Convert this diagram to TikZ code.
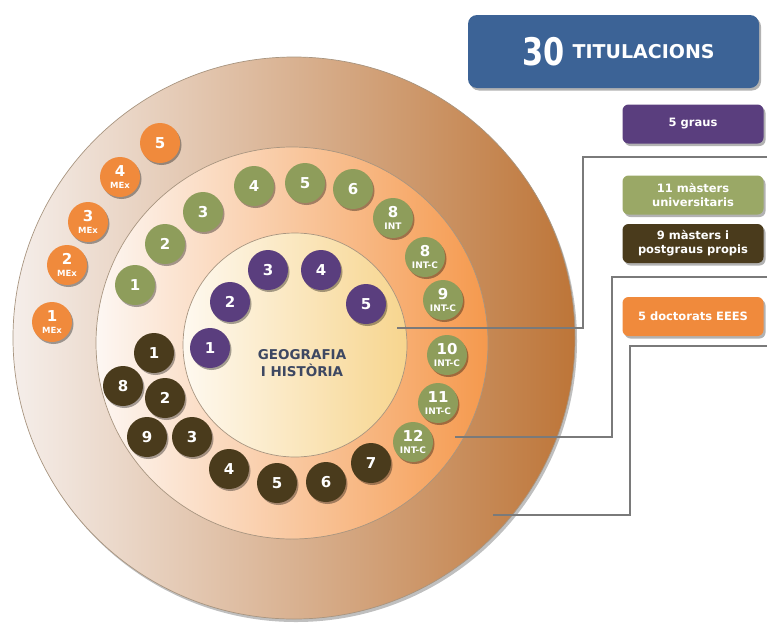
\documentclass[tikz,border=0pt]{standalone}
\usepackage{fontspec}
\setmainfont{DejaVu Sans}
\usetikzlibrary{shadows}
\definecolor{outL}{HTML}{F5EEEA}
\definecolor{outR}{HTML}{BD7538}
\definecolor{midL}{HTML}{FDF7F3}
\definecolor{midR}{HTML}{F5994D}
\definecolor{inL}{HTML}{FEF9F0}
\definecolor{inR}{HTML}{F7D58E}
\definecolor{cpur}{HTML}{5A3E7E}
\definecolor{cgrn}{HTML}{8E9D5B}
\definecolor{cdrk}{HTML}{4A3B1C}
\definecolor{corg}{HTML}{F08A3C}
\definecolor{cblue}{HTML}{3C6396}
\definecolor{ctext}{HTML}{3E4862}
\definecolor{cline}{HTML}{7A7A7A}
\definecolor{bgrn}{HTML}{9AA866}
\definecolor{rimc}{HTML}{A89580}
\newcommand{\twol}[2]{{\fontsize{15}{12}\selectfont #1}\\{\fontsize{9}{10}\selectfont #2}}
\newcommand{\twom}[2]{{\fontsize{15}{12}\selectfont #1}\\{\fontsize{8.5}{10}\selectfont #2}}
\begin{document}
\begin{tikzpicture}[x=1pt,y=-1pt,
  disc/.style={circle, inner sep=0pt, draw=rimc, line width=0.7pt},
  bub/.style={circle, minimum size=40pt, inner sep=0pt, text=white,
    font=\fontsize{15}{12}\selectfont\bfseries, align=center,
    drop shadow={shadow xshift=1.5pt, shadow yshift=-2pt, opacity=0.35, fill=black}},
  pur/.style={bub, fill=cpur},
  grn/.style={bub, fill=cgrn},
  drk/.style={bub, fill=cdrk},
  org/.style={bub, fill=corg},
  tagbox/.style={rounded corners=6pt, minimum width=141pt, minimum height=39pt,
    inner sep=0pt, text=white, align=center, font=\fontsize{11.5}{14}\selectfont\bfseries,
    drop shadow={shadow xshift=2pt, shadow yshift=-2.5pt, opacity=0.3, fill=black}},
  conn/.style={draw=cline, line width=1.2pt}]
\useasboundingbox (0,0) rectangle (767,627);
% discs
\node[disc, minimum size=562pt, left color=outL, right color=outR,
  drop shadow={shadow xshift=2pt, shadow yshift=-3pt, opacity=0.25, fill=black}] (outer) at (294,338) {};
\node[disc, minimum size=392pt, left color=midL, right color=midR] (middle) at (292,343) {};
\node[disc, minimum size=224pt, left color=inL, right color=inR] (inner) at (295,345) {};
\node[text=ctext, font=\fontsize{13.5}{17}\selectfont\bfseries, align=center] (title0) at (302,363) {GEOGRAFIA\\I HISTÒRIA};
% purple
\node[pur] (p1) at (210,348) {1};
\node[pur] (p2) at (230,302) {2};
\node[pur] (p3) at (268,270) {3};
\node[pur] (p4) at (321,270) {4};
\node[pur] (p5) at (366,304) {5};
% green
\node[grn] (g1) at (135,285) {1};
\node[grn] (g2) at (165,244) {2};
\node[grn] (g3) at (203,212) {3};
\node[grn] (g4) at (254,186) {4};
\node[grn] (g5) at (305,183) {5};
\node[grn] (g6) at (353,189) {6};
\node[grn] (g8) at (393,218) {\twol{8}{INT}};
\node[grn] (g8c) at (425,257) {\twol{8}{INT-C}};
\node[grn] (g9) at (443,300) {\twol{9}{INT-C}};
\node[grn] (g10) at (447,355) {\twol{10}{INT-C}};
\node[grn] (g11) at (438,403) {\twol{11}{INT-C}};
\node[grn] (g12) at (413,442) {\twol{12}{INT-C}};
% dark
\node[drk] (d1) at (154,353) {1};
\node[drk] (d8) at (123,386) {8};
\node[drk] (d2) at (165,398) {2};
\node[drk] (d9) at (147,437) {9};
\node[drk] (d3) at (192,437) {3};
\node[drk] (d4) at (229,469) {4};
\node[drk] (d5) at (277,483) {5};
\node[drk] (d6) at (326,482) {6};
\node[drk] (d7) at (371,463) {7};
% orange
\node[org] (o5) at (160,143) {5};
\node[org] (o4) at (120,177) {\twom{4}{MEx}};
\node[org] (o3) at (88,222) {\twom{3}{MEx}};
\node[org] (o2) at (67,265) {\twom{2}{MEx}};
\node[org] (o1) at (52,322) {\twom{1}{MEx}};
% connectors
\coordinate (c1a) at (397,328);
\coordinate (c1m) at (583,240);
\coordinate (c1b) at (767,157);
\coordinate (c2a) at (455,437);
\coordinate (c2m) at (612,350);
\coordinate (c2b) at (767,277);
\coordinate (c3a) at (493,515);
\coordinate (c3m) at (630,430);
\coordinate (c3b) at (767,346);
\draw[conn] (c1a) -| (c1m) |- (c1b);
\draw[conn] (c2a) -| (c2m) |- (c2b);
\draw[conn] (c3a) -| (c3m) |- (c3b);
% boxes
\node[tagbox, rounded corners=9pt, fill=cblue, minimum width=291pt, minimum height=73pt] (tit) at (613.5,51.5)
  {\hspace{10pt}\scalebox{0.8}[1]{\fontsize{38}{38}\selectfont 30}\hspace{8pt}\raisebox{7pt}{\fontsize{19}{19}\selectfont TITULACIONS}};
\node[tagbox, fill=cpur] (bgr) at (693,124) {5 graus};
\node[tagbox, fill=bgrn] (bma) at (693,195) {11 màsters\\universitaris};
\node[tagbox, fill=cdrk] (bpo) at (693,243.5) {9 màsters i\\postgraus propis};
\node[tagbox, fill=corg] (bdo) at (693,316.5) {5 doctorats EEES};
\end{tikzpicture}
\end{document}
